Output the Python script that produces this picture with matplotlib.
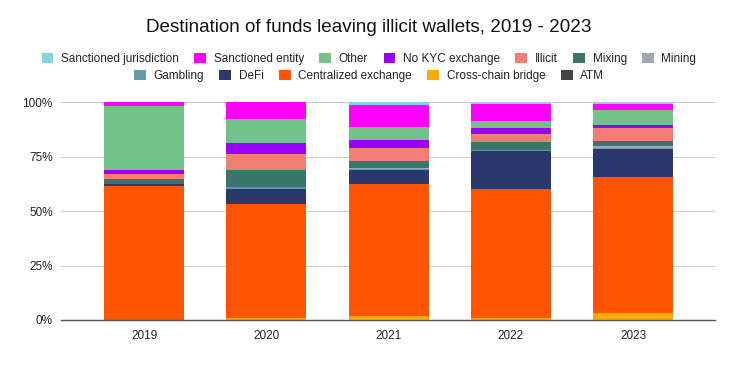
import matplotlib
matplotlib.use("Agg")
import matplotlib.pyplot as plt
from matplotlib.patches import Patch
import numpy as np

plt.rcParams['font.family'] = ['Liberation Sans', 'DejaVu Sans']

years = ["2019", "2020", "2021", "2022", "2023"]

# stacked bottom -> top
categories = ["ATM", "Cross-chain bridge", "Centralized exchange", "DeFi", "Gambling",
              "Mining", "Mixing", "Illicit", "No KYC exchange", "Other",
              "Sanctioned entity", "Sanctioned jurisdiction"]

atm                = [0.0, 0.0, 0.1, 0.0, 0.1]
cross_chain        = [0.1, 0.8, 1.6, 0.9, 3.0]
centralized        = [61.6, 52.5, 60.8, 59.4, 62.6]
defi               = [0.6, 7.0, 6.25, 17.3, 12.85]
gambling           = [0.1, 0.8, 0.4, 0.5, 0.4]
mining             = [0.0, 0.0, 0.4, 0.1, 1.0]
mixing             = [2.5, 7.65, 3.3, 3.8, 2.2]
illicit            = [2.1, 7.65, 5.9, 3.7, 6.25]
no_kyc             = [1.85, 4.9, 3.8, 2.75, 1.35]
other              = [29.25, 10.9, 5.95, 3.05, 6.9]
sanctioned_entity  = [1.9, 7.8, 10.25, 8.0, 2.6]
sanctioned_juris   = [0.0, 0.0, 1.1, 0.6, 0.8]

series = [atm, cross_chain, centralized, defi, gambling, mining, mixing, illicit,
          no_kyc, other, sanctioned_entity, sanctioned_juris]

colors = ["#444444", "#ffab00", "#ff5500", "#2b3870", "#5f9ea8", "#a2a8b3",
          "#38756a", "#f27d72", "#9900ff", "#72c289", "#ff00ff", "#80d6dd"]

fig = plt.figure(figsize=(7.38, 3.74), dpi=100)
ax = fig.add_axes([61/738, 1-320/374, (715-61)/738, (320-102.3)/374])

x = np.arange(len(years))
data = np.array(series, dtype=float)
totals = data.sum(axis=0)
pct = data / totals * 100
bottom = np.zeros(len(years))
for vals, c in zip(pct, colors):
    ax.bar(x, vals, bottom=bottom, width=0.654, color=c, edgecolor='none', zorder=2)
    bottom += vals

ax.set_xlim(-0.68, len(years) - 1 + 0.67)
ax.set_ylim(0, 100)
ax.set_yticks([0, 25, 50, 75, 100])
ax.set_yticklabels(["0%", "25%", "50%", "75%", "100%"])
ax.set_xticks(x)
ax.set_xticklabels(years)
ax.tick_params(axis='both', length=0, labelsize=8.5, colors='#222222')
ax.tick_params(axis='y', pad=6)
ax.tick_params(axis='x', pad=7)
ax.grid(axis='y', color='#cccccc', linewidth=0.8, zorder=0)
for s in ['top', 'right', 'left']:
    ax.spines[s].set_visible(False)
ax.spines['bottom'].set_color('#555555')
ax.spines['bottom'].set_linewidth(1.0)
ax.spines['bottom'].set_zorder(3)

fig.text(0.5, 1-28/374, "Destination of funds leaving illicit wallets, 2019 - 2023",
         ha='center', va='center', fontsize=13.6, color='#111111')

legend_order = list(range(len(categories)))[::-1]
handles = [Patch(facecolor=colors[i], edgecolor='none') for i in legend_order]
labels = [categories[i] for i in legend_order]

common = dict(frameon=False, fontsize=8.5, handlelength=1.0, handleheight=0.95,
              handletextpad=0.65, columnspacing=1.3, borderaxespad=0, borderpad=0,
              labelcolor='#222222')
leg1 = fig.legend(handles[:7], labels[:7], ncol=7, loc='center',
                  bbox_to_anchor=(0.5, 1-59/374), **common)
leg2 = fig.legend(handles[7:], labels[7:], ncol=5, loc='center',
                  bbox_to_anchor=(0.5, 1-76/374), **common)

fig.savefig("out.png", dpi=100, facecolor='white')
